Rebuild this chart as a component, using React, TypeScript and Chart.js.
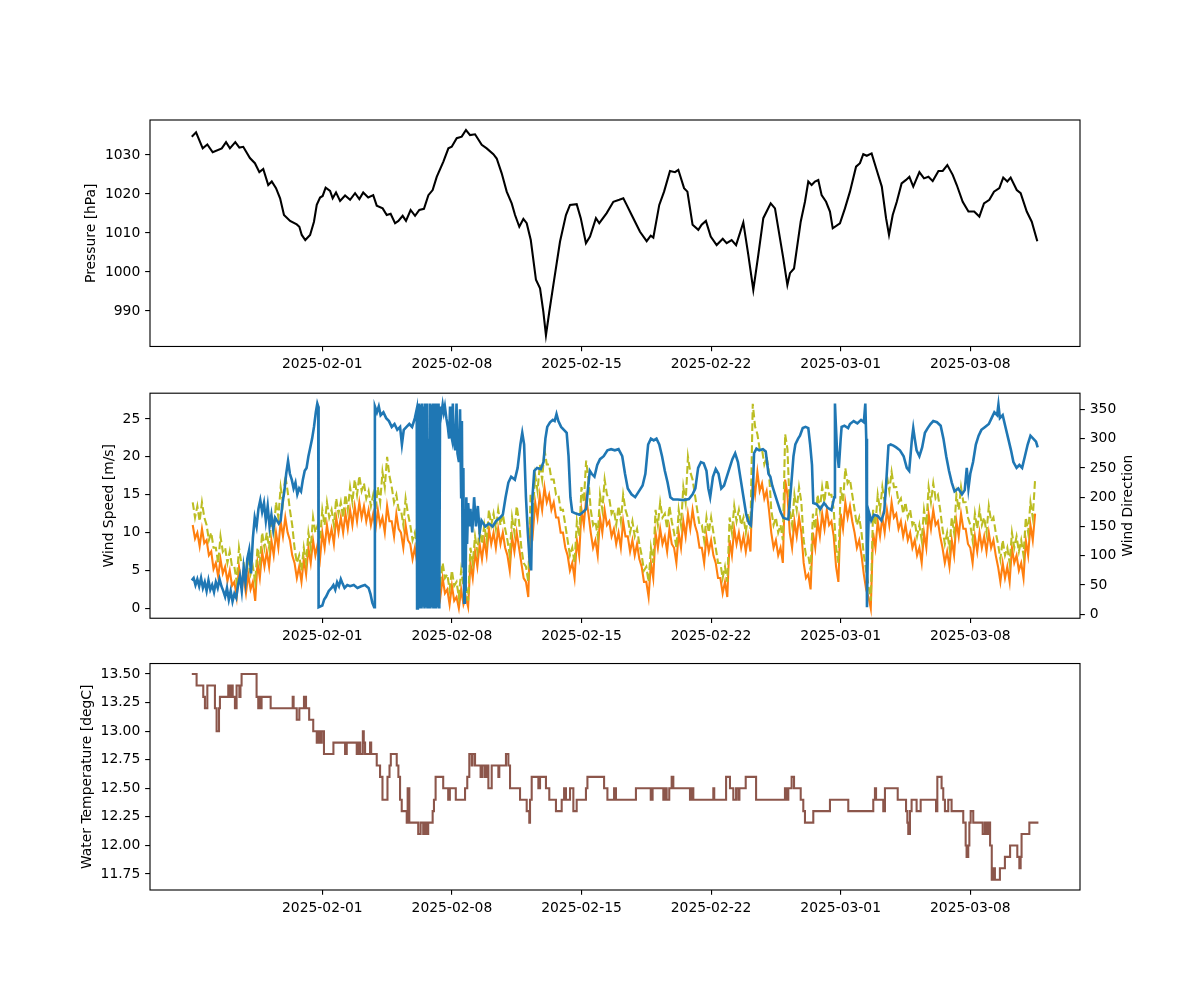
import React, { useEffect, useRef } from "react";
import { Chart, registerables } from "chart.js";
Chart.register(...registerables);

const PT = 100 / 72;
const FONT = { family: "'DejaVu Sans', sans-serif", size: 10 * PT };

// ---- x axis (days since 2025-02-01 00:00) ----
const X_MIN = -9.307;
const X_MAX = 40.926;
const dateTickDays = [0, 7, 14, 21, 28, 35];
const dateTickLabels = ["2025-02-01", "2025-02-08", "2025-02-15", "2025-02-22", "2025-03-01", "2025-03-08"];

// ---- tick values ----
const pressureTicks = [990, 1000, 1010, 1020, 1030];
const speedTicks = [0, 5, 10, 15, 20, 25];
const dirTicks = [0, 50, 100, 150, 200, 250, 300, 350];
const tempTicks = [11.75, 12.0, 12.25, 12.5, 12.75, 13.0, 13.25, 13.5];

const pressureLabel = "Pressure [hPa]";
const speedLabel = "Wind Speed [m/s]";
const dirLabel = "Wind Direction";
const tempLabel = "Water Temperature [degC]";

// ---- pressure ----
const pressureT = [-7.05,-6.82,-6.46,-6.21,-5.92,-5.43,-5.2,-4.99,-4.7,-4.48,-4.27,-3.91,-3.64,-3.4,-3.19,-2.92,-2.73,-2.5,-2.28,-2.07,-1.74,-1.38,-1.24,-1.11,-0.92,-0.66,-0.45,-0.3,-0.12,0.02,0.18,0.42,0.56,0.74,0.96,1.23,1.5,1.77,2.0,2.21,2.48,2.75,2.94,3.26,3.48,3.69,3.93,4.11,4.34,4.52,4.77,5.01,5.24,5.49,5.73,5.96,6.18,6.54,6.81,6.99,7.26,7.53,7.76,7.98,8.25,8.61,8.88,9.24,9.42,9.69,9.96,10.23,10.41,10.64,10.86,11.04,11.26,11.54,11.76,11.94,12.08,12.26,12.48,12.84,13.16,13.38,13.74,13.96,14.24,14.46,14.78,14.96,15.36,15.72,16.04,16.26,16.44,16.71,17.16,17.52,17.74,17.88,18.2,18.46,18.78,19.05,19.23,19.54,19.72,20.0,20.31,20.49,20.72,20.98,21.3,21.63,21.84,22.11,22.35,22.74,23.01,23.28,23.55,23.82,24.22,24.45,24.63,24.9,25.12,25.26,25.48,25.84,26.07,26.25,26.43,26.61,26.79,26.97,27.21,27.42,27.57,27.96,28.23,28.5,28.83,29.04,29.22,29.41,29.67,29.94,30.22,30.45,30.61,30.81,31.03,31.29,31.53,31.71,31.92,32.25,32.5,32.74,32.97,33.28,33.51,33.76,34.05,34.27,34.59,34.9,35.21,35.49,35.74,36.03,36.28,36.57,36.78,37.0,37.18,37.51,37.72,38.05,38.32,38.62];
const pressureV = [1034.7,1035.8,1031.7,1032.7,1030.7,1031.7,1033.3,1031.7,1033.3,1031.9,1032.1,1029.2,1027.9,1025.6,1026.4,1022.3,1023.2,1021.5,1018.9,1014.6,1013.1,1012.2,1011.6,1009.5,1008.2,1009.5,1012.9,1017.2,1019.1,1019.5,1021.6,1020.8,1018.9,1020.4,1018.2,1019.6,1018.5,1020.2,1018.7,1020.4,1019.1,1019.7,1017.0,1016.3,1014.6,1014.9,1012.5,1013.1,1014.4,1013.1,1015.9,1014.4,1015.9,1016.2,1019.7,1021.0,1024.4,1028.3,1031.7,1032.1,1034.3,1034.7,1036.4,1035.1,1035.3,1032.6,1031.7,1030.2,1029.1,1025.3,1020.6,1017.6,1014.6,1011.6,1013.6,1012.5,1008.2,998.0,995.8,989.8,983.8,989.8,996.7,1007.8,1014.6,1017.2,1017.4,1013.8,1007.4,1009.1,1013.8,1012.5,1015.1,1018.0,1018.5,1018.9,1017.2,1014.6,1010.3,1007.9,1009.3,1008.8,1017.2,1020.6,1025.9,1025.6,1026.2,1021.5,1020.6,1012.1,1010.8,1012.1,1013.1,1009.1,1006.9,1008.5,1007.4,1008.2,1006.9,1012.7,1004.4,995.4,1004.4,1013.8,1017.6,1016.3,1011.2,1003.5,996.7,999.7,1000.9,1012.9,1018.0,1023.2,1022.3,1023.2,1023.6,1019.7,1018.0,1015.5,1011.2,1012.5,1016.3,1020.6,1027.0,1027.9,1030.2,1029.8,1030.4,1026.2,1021.9,1013.8,1009.5,1014.6,1018.0,1022.7,1023.6,1024.4,1021.9,1025.6,1024.0,1024.4,1023.3,1025.9,1025.9,1027.4,1024.9,1022.3,1018.0,1015.5,1015.5,1014.2,1017.6,1018.5,1020.6,1021.5,1024.2,1023.2,1024.2,1021.0,1020.2,1015.5,1012.9,1007.9];

// ---- wind speed / gust (3-hourly from 2025-01-25 00:00) ----
const windStartDay = -7;
const windStepDays = 0.125;
const windSpeed = [
  11,9.2,10,8.2,10.5,8.6,9,7, 7.5,5.2,6,4.2,6.5,4.6,5.5,3.6, 5,3,3.5,1.5,5.5,3.2,4,2, 4.5,2.5,3.5,1,6,4,7.5,5.5,
  7.5,5.5,9,7,10,8,11.5,9.5, 12,10,9,7,6,4,5.5,3.5, 6.5,4.5,8,6,9,7,8.5,6.5, 10,8,11,9,10.5,8.5,12,10,
  12,10,12.5,10.5,13,11,13.5,11.5, 14,12,13.5,11.5,13,11,12.5,10.5, 13,11,12,10,13.5,11.5,11.5,9.5, 12.5,10.5,10,8,11,9,8.5,6.5,
  8,6,6.5,4.5,7.5,5.5,5,3, 4.5,2.5,3.5,1.5,4,2,2.5,0.5, 3,1,1.5,0,2.5,0.5,1.5,0.2, 6,4,7.5,5.5,8.5,6.5,9,7,
  10.5,8.5,10,8,10.5,8.5,10,8, 7,5,9.5,7.5,10,8,6,4, 3.5,1.5,12,10,14,12,15,13, 16,14,15,13,14,12,12,10,
  10,8,7,5,6,4,9,7, 13,11,14.5,12.5,10,8,9,7, 12,10,13,11,11.5,9.5,10.5,8.5, 10,8,11.5,9.5,9.5,7.5,9,7,
  8.5,6.5,5.5,3.5,3.5,1.5,6,4, 10,8,10.5,8.5,9.5,7.5,10.5,8.5, 8,6,10,8,11.5,9.5,12.5,10.5, 13,11,10,8,8,6,9.5,7.5,
  9,7,6,4,4,2,3.5,1.5, 9,7,10.5,8.5,10,8,9.5,7.5, 9.5,7.5,17,15,18,15.5,16.5,14.5, 15.5,13,10,8,9,7,8,6,
  17,15,10,8,11.5,9.5,12,10, 6,4,4.5,2.5,10,8,11.5,9.5, 12.5,10.5,13,11,11.5,9.5,5.5,3.5, 12.5,10.5,14,12,13.5,11.5,10,8,
  9,7,4.5,2.5,1.5,0,10,8, 11.5,9.5,12,10,13,11,14,12, 12.5,10.5,11.5,9.5,11,9,10,8, 9,7,8,6,10,8,12.5,10.5,
  13,11,11.5,9.5,8,6,7.5,5.5, 9,7,11.5,9.5,12.5,10.5,10.5,8.5, 8,6,9.5,7.5,10,8,9.5,7.5, 10,8,9,7,5.5,3.5,6,4,
  5.5,3.5,8,6,7,5,6,4, 9,7,11,9,12.5
];
const windGust = [
  14,12,13.5,11.5,14,12,11,9, 10,8,8,6,9.5,7.5,8,6, 7.5,5.5,5.5,3.5,8,6,6,4, 6.5,4.5,5.5,3.5,8,6,10,8,
  10,8,12,10,14,12,16,14, 17.5,15.5,13,11,8,6,7,5, 8,6,10,8,12,10,11,9, 13,11,14,12,13,11,14.5,12.5,
  14,12,15,13,16,14,17,15, 17.5,15.5,16.5,14.5,15.5,13.5,15,13, 16,14,18,16,20,17.5,16,14, 15,13,13,11,14.5,12.5,11,9,
  10,8,8,6,9.5,7.5,7,5, 6.5,4.5,5.5,3.5,6,4,4.5,2.5, 5,3,3.5,1.5,5,3,3,1, 8,6,9.5,7.5,10.5,8.5,11,9,
  13,11,12.5,10.5,13,11,12.5,10.5, 9,7,12,10,13.5,11.5,8,6, 5.5,3.5,15,13,17.5,15.5,19,17, 21,19,19,17,17,15,15,13,
  13,11,9,7,8,6,11.5,9.5, 16,14,19.5,17,13,11,11.5,9.5, 15,13,17,15,14.5,12.5,13,11, 13.5,11.5,15,13,12,10,11.5,9.5,
  10.5,8.5,7,5,5.5,3.5,8,6, 13,11,14,12,12.5,10.5,13.5,11.5, 10,8,13,11,16,14,20,18, 17,15,13,11,11,9,12,10,
  12,10,8,6,6,4,5.5,3.5, 12,10,13.5,11.5,13,11,12,10, 12.5,10.5,27,24,23,21,21,19, 20,18,13,11,12,10,11,9,
  23,21,13,11,15,13,16,14, 9,7,7,5,12.5,10.5,15,13, 16,14,17,15,15,13,8,6, 16,14,18.5,16.5,17,15,13,11,
  12,10,7,5,3,1,13,11, 15,13,16,14,17.5,15.5,18,16, 16,14,14.5,12.5,14,12,13,11, 11.5,9.5,11,9,13,11,16,14,
  16.5,14.5,15,13,10.5,8.5,10,8, 12,10,15,13,16,14,14,12, 11,9,12.5,10.5,13,11,12,10, 13.5,11.5,12,10,8.5,6.5,9,7,
  8,6,10,8,9.5,7.5,9,7, 12,10,14,12,17
];

// ---- wind direction ----
const dirT = [-7.05,-6.95,-6.85,-6.75,-6.65,-6.55,-6.45,-6.35,-6.25,-6.15,-6.05,-5.95,-5.85,-5.75,-5.65,-5.55,-5.45,-5.35,-5.25,-5.15,-5.05,-4.95,-4.85,-4.75,-4.65,-4.55,-4.45,-4.35,-4.25,-4.15,-4.05,-3.95,-3.85,-3.75,-3.65,-3.55,-3.45,-3.35,-3.25,-3.15,-3.05,-2.95,-2.85,-2.75,-2.65,-2.55,-2.45,-2.35,-2.25,-2.15,-2.05,-1.95,-1.85,-1.75,-1.65,-1.55,-1.45,-1.35,-1.25,-1.15,-1.05,-0.95,-0.85,-0.75,-0.65,-0.55,-0.45,-0.35,-0.27,-0.22,-0.2,0.0,0.1,0.2,0.35,0.5,0.6,0.7,0.8,0.9,1.0,1.1,1.2,1.35,1.5,1.7,1.9,2.1,2.3,2.5,2.6,2.7,2.8,2.84,2.95,3.05,3.15,3.3,3.45,3.6,3.75,3.9,4.05,4.2,4.3,4.4,4.55,4.7,4.85,5.0,5.1,5.12,5.16,5.2,5.24,5.28,5.32,5.36,5.4,5.44,5.48,5.52,5.56,5.6,5.64,5.68,5.72,5.76,5.8,5.84,5.88,5.92,5.96,6.0,6.04,6.08,6.12,6.16,6.2,6.24,6.28,6.32,6.36,6.42,6.5,6.56,6.62,6.7,6.78,6.85,6.9,6.94,7.0,7.05,7.1,7.18,7.25,7.3,7.38,7.44,7.5,7.54,7.58,7.62,7.66,7.7,7.74,7.78,7.82,7.88,7.95,8.0,8.1,8.2,8.3,8.4,8.5,8.6,8.8,9.0,9.2,9.4,9.6,9.75,9.9,10.05,10.2,10.4,10.55,10.7,10.8,10.9,11.0,11.1,11.2,11.28,11.35,11.45,11.6,11.8,11.95,12.05,12.15,12.3,12.45,12.55,12.65,12.75,12.9,13.05,13.2,13.3,13.4,13.5,13.7,13.9,14.1,14.25,14.35,14.45,14.55,14.7,14.85,15.0,15.2,15.4,15.6,15.8,16.0,16.2,16.35,16.5,16.7,16.9,17.1,17.3,17.45,17.6,17.75,17.9,18.05,18.2,18.35,18.5,18.65,18.8,18.95,19.2,19.5,19.8,20.0,20.15,20.3,20.45,20.6,20.75,20.85,20.95,21.1,21.25,21.4,21.55,21.7,21.85,22.0,22.15,22.3,22.45,22.6,22.75,22.9,23.05,23.15,23.25,23.32,23.45,23.6,23.8,23.95,24.1,24.2,24.3,24.45,24.6,24.75,24.9,25.05,25.17,25.3,25.45,25.55,25.7,25.8,25.95,26.1,26.25,26.35,26.45,26.52,26.7,26.9,27.1,27.3,27.5,27.65,27.69,27.73,27.8,27.9,28.0,28.05,28.2,28.4,28.5,28.7,28.9,29.1,29.25,29.33,29.38,29.42,29.47,29.52,29.65,29.8,30.0,30.2,30.35,30.45,30.58,30.7,30.85,31.0,31.2,31.4,31.57,31.7,31.85,31.92,32.0,32.1,32.25,32.4,32.55,32.7,32.85,33.0,33.2,33.4,33.55,33.7,33.85,34.0,34.15,34.35,34.55,34.7,34.81,34.9,35.0,35.15,35.3,35.45,35.6,35.8,36.0,36.15,36.3,36.45,36.52,36.6,36.75,36.9,37.05,37.2,37.33,37.5,37.65,37.8,37.95,38.1,38.25,38.4,38.55,38.64];
const dirV = [58,62,50,60,48,62,45,55,40,58,42,50,38,55,45,60,48,40,30,45,25,40,22,35,28,50,65,40,80,55,95,110,70,130,165,150,180,195,175,190,160,185,150,170,145,165,160,155,160,190,210,240,262,240,230,215,225,205,215,210,230,245,250,270,285,300,320,345,360,355,12,15,25,30,40,45,50,42,55,48,60,52,45,50,48,50,45,48,50,45,35,20,12,355,345,355,340,345,335,330,320,325,315,320,290,315,320,325,320,335,350,10,360,10,360,12,358,10,360,15,355,10,360,12,360,10,300,10,360,10,358,12,360,10,360,10,355,10,360,12,360,10,355,340,358,345,355,335,320,300,355,310,300,360,295,280,360,275,260,350,200,330,80,250,20,180,40,200,120,190,150,180,140,200,150,185,140,160,150,155,150,160,165,170,200,225,235,230,250,290,310,290,200,140,90,75,200,245,250,248,260,300,320,328,332,330,342,330,320,315,310,270,200,175,172,170,175,180,215,245,240,235,255,265,270,280,282,280,282,270,240,215,205,200,210,220,240,290,300,297,300,290,270,245,225,200,196,196,195,197,205,215,250,260,258,245,215,200,235,248,240,215,220,235,250,265,275,260,230,200,170,155,152,200,275,283,280,282,278,240,235,220,205,190,175,165,163,162,210,270,290,300,305,318,320,318,290,255,190,188,180,190,182,178,200,360,330,280,250,300,320,322,318,325,330,326,332,328,360,300,12,120,175,160,170,168,160,175,220,288,290,288,285,280,270,250,245,300,318,300,280,270,285,310,318,325,330,328,322,300,270,245,225,210,215,205,212,250,215,240,260,290,305,315,320,325,335,345,340,358,335,340,320,300,280,260,250,255,250,270,290,305,300,295,285];

// ---- water temperature (change points) ----
const tempT = [-7.05,-6.79,-6.43,-6.34,-6.21,-5.8,-5.71,-5.58,-5.53,-5.08,-4.99,-4.9,-4.84,-4.72,-4.63,-4.48,-4.42,-4.36,-3.55,-3.46,-3.41,-3.37,-3.28,-2.79,-1.6,-1.55,-1.38,-1.24,-0.99,-0.88,-0.71,-0.49,-0.3,-0.25,-0.21,-0.16,-0.12,-0.03,0.09,0.6,1.23,1.32,1.86,1.9,1.94,2.01,2.05,2.19,2.24,2.31,2.58,2.64,2.94,3.12,3.25,3.52,3.63,3.7,4.02,4.11,4.2,4.29,4.56,4.61,4.7,5.18,5.31,5.45,5.54,5.63,5.72,5.96,6.03,6.12,6.53,6.8,6.89,7.21,7.71,7.83,7.94,8.07,8.12,8.25,8.55,8.66,8.79,8.88,8.97,9.15,9.51,9.56,9.92,10.05,10.14,10.68,11.04,11.18,11.22,11.31,11.67,11.76,12.08,12.26,12.62,12.93,13.06,13.16,13.38,13.56,13.74,14.24,14.32,15.22,15.4,15.76,15.86,16.94,17.74,17.84,18.42,18.51,18.6,18.74,18.87,18.96,19.86,19.95,20.04,21.12,21.17,21.81,22.02,22.2,22.35,22.47,22.53,22.87,23.43,24.99,25.08,25.17,25.35,25.48,25.84,25.98,26.07,26.52,27.42,28.41,29.76,29.85,29.91,30.3,30.39,31.08,31.53,31.6,31.65,31.74,31.83,32.1,32.32,33.15,33.22,33.45,33.54,33.63,33.81,33.99,34.62,34.75,34.8,34.89,34.95,35.02,35.16,35.67,35.79,35.88,35.97,36.07,36.16,36.24,36.33,36.6,36.87,37.15,37.54,37.65,37.72,37.77,38.19,38.68];
const tempV = [13.5,13.4,13.3,13.2,13.4,13.2,13.0,13.2,13.3,13.4,13.3,13.4,13.3,13.2,13.4,13.3,13.4,13.5,13.3,13.2,13.3,13.2,13.3,13.2,13.3,13.2,13.1,13.2,13.3,13.2,13.1,13.0,12.9,13.0,12.9,13.0,12.9,13.0,12.8,12.9,12.8,12.9,12.8,12.9,12.8,12.9,12.8,13.0,12.9,12.8,12.9,12.8,12.7,12.6,12.4,12.6,12.7,12.8,12.7,12.6,12.4,12.3,12.2,12.5,12.2,12.1,12.2,12.1,12.2,12.1,12.2,12.3,12.4,12.6,12.5,12.4,12.5,12.4,12.5,12.6,12.8,12.7,12.8,12.7,12.6,12.7,12.6,12.7,12.5,12.7,12.6,12.7,12.8,12.7,12.5,12.4,12.3,12.2,12.4,12.6,12.5,12.6,12.5,12.4,12.3,12.4,12.5,12.4,12.5,12.3,12.4,12.5,12.6,12.5,12.4,12.5,12.4,12.5,12.4,12.5,12.4,12.5,12.4,12.5,12.6,12.5,12.4,12.5,12.4,12.5,12.4,12.6,12.5,12.4,12.5,12.4,12.5,12.6,12.4,12.5,12.4,12.5,12.6,12.5,12.4,12.3,12.2,12.3,12.4,12.3,12.4,12.5,12.4,12.3,12.5,12.4,12.3,12.2,12.1,12.3,12.4,12.3,12.4,12.3,12.6,12.5,12.4,12.3,12.4,12.3,12.2,12.0,11.9,12.0,12.2,12.3,12.2,12.1,12.2,12.1,12.2,12.0,11.7,11.8,11.7,11.8,11.9,12.0,11.9,11.8,11.9,12.1,12.2,12.2];

// ---- helpers ----
const pairs = (t: number[], v: number[]) => t.map((x, i) => ({ x, y: v[i] }));
const uniform = (start: number, step: number, v: number[]) => v.map((y, i) => ({ x: start + i * step, y }));

const tickGrid = {
  display: true,
  drawOnChartArea: false,
  drawTicks: true,
  tickLength: 3.5 * PT,
  tickWidth: 0.8 * PT,
  tickColor: "#000",
  color: "#000",
  lineWidth: 0.8 * PT,
};

function xAxis() {
  return {
    type: "linear",
    position: "bottom",
    min: X_MIN,
    max: X_MAX,
    afterBuildTicks: (s: any) => {
      s.ticks = dateTickDays.map((value) => ({ value }));
    },
    afterFit: (s: any) => {
      s.height = 30;
    },
    ticks: {
      font: FONT,
      color: "#000",
      padding: 3.5 * PT,
      maxRotation: 0,
      autoSkip: false,
      callback: (v: number) => {
        const i = dateTickDays.indexOf(v);
        return i >= 0 ? dateTickLabels[i] : "";
      },
    },
    grid: tickGrid,
    border: { display: false },
  };
}

function yAxis(min: number, max: number, ticks: number[], fmt: (v: number) => string, position: string, width: number, title?: string, titlePad?: number) {
  return {
    type: "linear",
    position,
    min,
    max,
    afterBuildTicks: (s: any) => {
      s.ticks = ticks.map((value) => ({ value }));
    },
    afterFit: (s: any) => {
      s.width = width;
    },
    ticks: { font: FONT, color: "#000", padding: 3.5 * PT, callback: fmt },
    grid: tickGrid,
    border: { display: false },
    title: title
      ? { display: true, text: title, font: FONT, color: "#000", padding: { top: titlePad, bottom: 0 } }
      : { display: false },
  };
}

const framePlugin = {
  id: "frame",
  afterDatasetsDraw(chart: any) {
    const { ctx, chartArea: a } = chart;
    ctx.save();
    ctx.strokeStyle = "#000";
    ctx.lineWidth = 0.8 * PT;
    ctx.strokeRect(a.left, a.top, a.right - a.left, a.bottom - a.top);
    ctx.restore();
  },
};

const rightTitlePlugin = {
  id: "rightTitle",
  afterDraw(chart: any) {
    const { ctx, chartArea: a } = chart;
    ctx.save();
    ctx.font = `${FONT.size}px ${FONT.family}`;
    ctx.fillStyle = "#000";
    ctx.translate(1128, (a.top + a.bottom) / 2);
    ctx.rotate(-Math.PI / 2);
    ctx.textAlign = "center";
    ctx.textBaseline = "middle";
    ctx.fillText(dirLabel, 0, 0);
    ctx.restore();
  },
};

function baseOptions(padding: any, scales: any) {
  return {
    animation: false,
    responsive: false,
    maintainAspectRatio: false,
    events: [],
    layout: { padding },
    plugins: { legend: { display: false }, tooltip: { enabled: false } },
    elements: { point: { radius: 0 }, line: { tension: 0 } },
    scales,
  };
}

const LW = 1.5 * PT;

export default function App() {
  const r1 = useRef<HTMLCanvasElement>(null);
  const r2 = useRef<HTMLCanvasElement>(null);
  const r3 = useRef<HTMLCanvasElement>(null);

  useEffect(() => {
    const charts: Chart[] = [];
    charts.push(
      new Chart(r1.current!, {
        type: "line",
        data: {
          datasets: [
            { data: pairs(pressureT, pressureV), borderColor: "#000000", borderWidth: LW, pointRadius: 0, fill: false },
          ],
        },
        options: baseOptions(
          { top: 120, bottom: 380 - 346.47 - 30, left: 0, right: 120 },
          {
            x: xAxis(),
            y: yAxis(980.9, 1038.97, pressureTicks, (v) => String(v), "left", 150, pressureLabel, 83),
          }
        ) as any,
        plugins: [framePlugin],
      })
    );
    charts.push(
      new Chart(r2.current!, {
        type: "line",
        data: {
          datasets: [
            { data: pairs(dirT, dirV), yAxisID: "y2", borderColor: "#1f77b4", borderWidth: 2.6, pointRadius: 0, fill: false },
            { data: uniform(windStartDay, windStepDays, windGust), yAxisID: "y", borderColor: "#bcbd22", borderWidth: LW, borderDash: [5.55 * PT, 2.4 * PT], pointRadius: 0, fill: false },
            { data: uniform(windStartDay, windStepDays, windSpeed), yAxisID: "y", borderColor: "#ff7f0e", borderWidth: LW, pointRadius: 0, fill: false },
          ],
        },
        options: baseOptions(
          { top: 391.76 - 380, bottom: 650 - 618.24 - 30, left: 0, right: 0 },
          {
            x: xAxis(),
            y: yAxis(-1.3, 28.4, speedTicks, (v) => String(v), "left", 150, speedLabel, 100.6),
            y2: yAxis(-6.7, 377.6, dirTicks, (v) => String(v), "right", 120),
          }
        ) as any,
        plugins: [framePlugin, rightTitlePlugin],
      })
    );
    charts.push(
      new Chart(r3.current!, {
        type: "line",
        data: {
          datasets: [
            { data: pairs(tempT, tempV), borderColor: "#8c564b", borderWidth: LW, pointRadius: 0, fill: false, stepped: true },
          ],
        },
        options: baseOptions(
          { top: 663.53 - 650, bottom: 1000 - 890 - 30, left: 0, right: 120 },
          {
            x: xAxis(),
            y: yAxis(11.61, 13.592, tempTicks, (v) => v.toFixed(2), "left", 150, tempLabel, 78.6),
          }
        ) as any,
        plugins: [framePlugin],
      })
    );
    return () => charts.forEach((c) => c.destroy());
  }, []);

  return (
    <div style={{ position: "absolute", left: 0, top: 0, width: 1200, height: 1000, background: "#fff" }}>
      <canvas ref={r1} width={1200} height={380} style={{ position: "absolute", left: 0, top: 0, width: 1200, height: 380 }} />
      <canvas ref={r2} width={1200} height={270} style={{ position: "absolute", left: 0, top: 380, width: 1200, height: 270 }} />
      <canvas ref={r3} width={1200} height={350} style={{ position: "absolute", left: 0, top: 650, width: 1200, height: 350 }} />
    </div>
  );
}
